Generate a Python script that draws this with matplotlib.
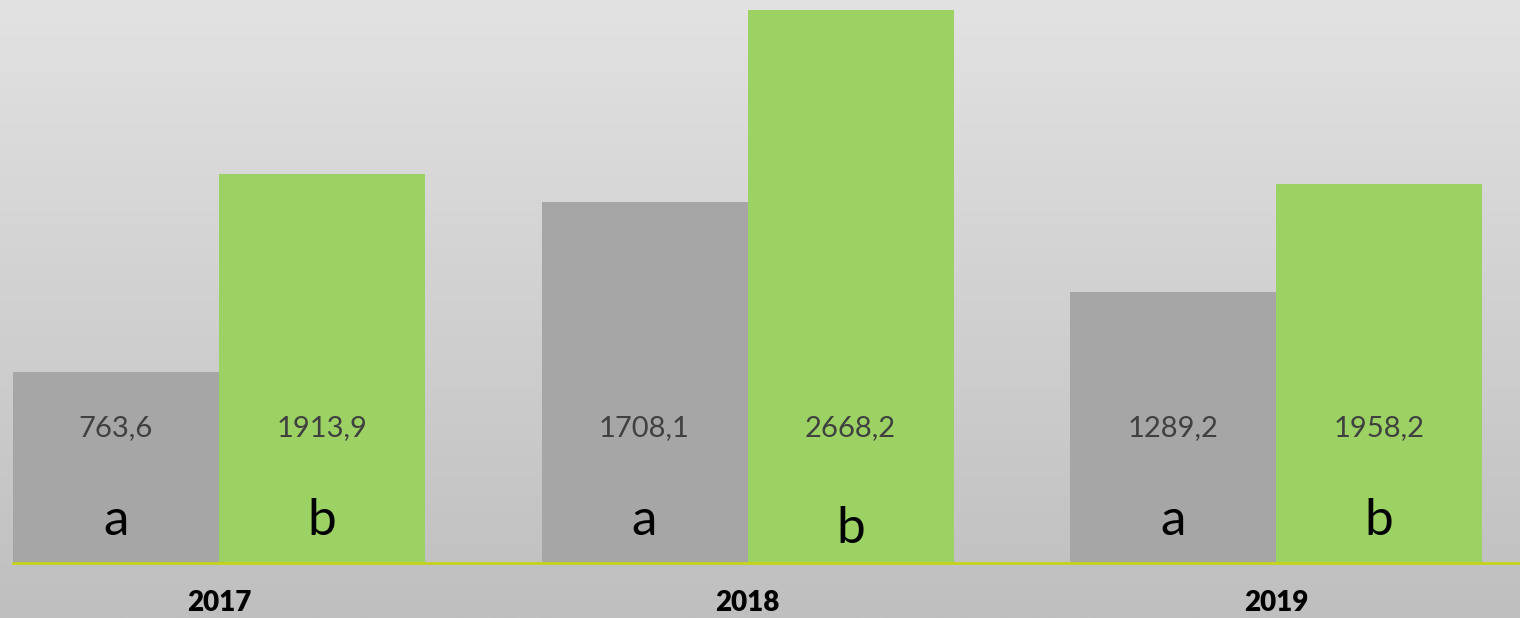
import numpy as np
import matplotlib
matplotlib.use('Agg')
import matplotlib.pyplot as plt

years = ['2017', '2018', '2019']
series = ['a', 'b']
# printed values (comma decimal as in the original)
labels_a = ['763,6', '1708,1', '1289,2']
labels_b = ['1913,9', '2668,2', '1958,2']
# bar heights as drawn in the picture (not strictly proportional to the labels)
heights_a = [921.6, 1741.8, 1307.6]
heights_b = [1877.0, 2668.2, 1828.7]

plt.rcParams['font.family'] = ['Lato', 'DejaVu Sans']

fig = plt.figure(figsize=(15.2, 6.18), dpi=100)

# gradient background
bg = fig.add_axes([0, 0, 1, 1])
grad = np.linspace(0, 1, 256).reshape(-1, 1)
cmap = matplotlib.colors.LinearSegmentedColormap.from_list('bg', ['#e2e2e2', '#bfbfbf'])
bg.imshow(grad, aspect='auto', cmap=cmap, extent=[0, 1, 0, 1], origin='upper')
bg.axis('off')

base_frac = 55 / 618
ax = fig.add_axes([0, base_frac, 1, 1 - base_frac])
ax.patch.set_alpha(0)
x = np.arange(len(years))
w = 206 / 528.5
ax.set_xlim(-219 / 528.5, (1520 - 219) / 528.5)
ax.set_ylim(0, heights_b[1] * 563 / 553)

ax.bar(x - w / 2, heights_a, w, color='#a6a6a6', linewidth=0)
ax.bar(x + w / 2, heights_b, w, color='#9cd263', linewidth=0)
ax.plot([x[0] - w, ax.get_xlim()[1]], [0, 0], color='#c5d31a', lw=2, clip_on=False)

ypx = heights_b[1] / 553  # data units per pixel
for i in range(len(years)):
    for off, lab, s in [(-w / 2, labels_a[i], series[0]), (w / 2, labels_b[i], series[1])]:
        ax.text(x[i] + off, 135 * ypx, lab, ha='center', va='center',
                fontsize=21, color='#404040')
        dy = 20 if (i == 1 and s == 'b') else 28
        ax.text(x[i] + off, dy * ypx, s, ha='center', va='baseline',
                fontsize=37, color='black')
    ax.text(x[i], -40 * ypx, years[i], ha='center', va='center',
            fontsize=20, fontweight='heavy', color='black', clip_on=False)

ax.axis('off')
fig.savefig('out.png', dpi=100)
